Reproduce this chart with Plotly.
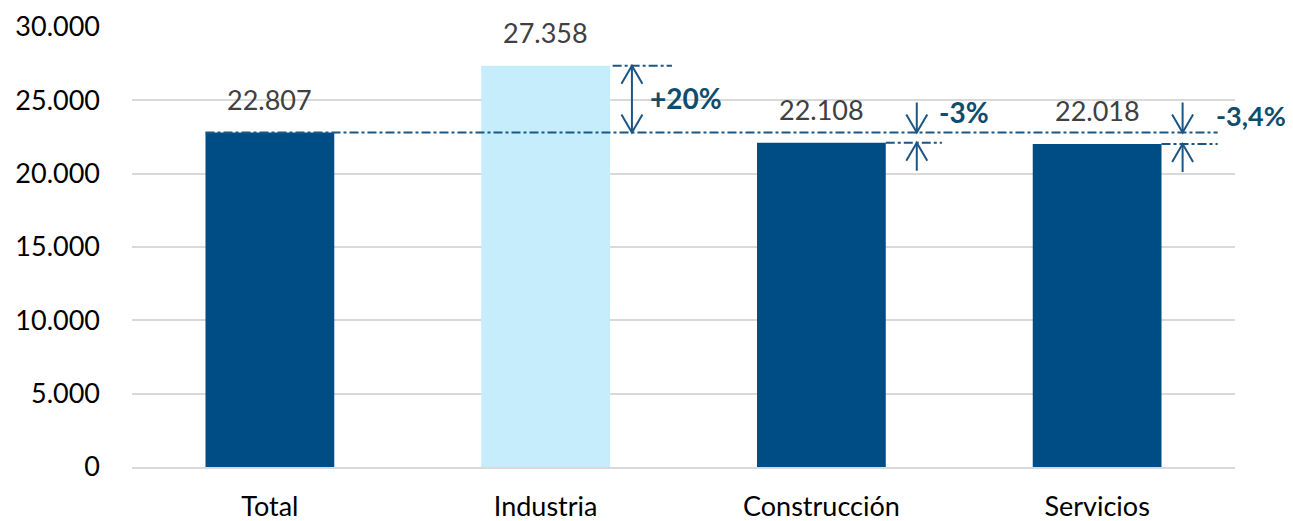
import plotly.graph_objects as go

categories = ["Total", "Industria", "Construcción", "Servicios"]
values = [22807, 27358, 22108, 22018]
bar_colors = ["#004C84", "#C5EDFC", "#004C84", "#004C84"]
diff_labels = ["+20%", "-3%", "-3,4%"]
y_ticks = [0, 5000, 10000, 15000, 20000, 25000, 30000]

# page body has an 8px margin, so the figure is sized to fit the visible window
W, H = 1285, 513
ML, MR, MT, MB = 123.5, 57.5, 19, 54
YMAX = 30000
px_x = 4 / (W - ML - MR)         # category units per pixel
px_y = YMAX / (H - MT - MB)      # value units per pixel

LINE_C = "#1B5685"
TXT_C = "#0E4D6D"
FONT = "Lato, 'Open Sans', sans-serif"
FS = 27
BW = 0.467

def fmt(v):
    return f"{v:,}".replace(",", ".")

fig = go.Figure(go.Bar(
    x=categories, y=values, marker=dict(color=bar_colors, line=dict(width=0)),
    width=BW, hoverinfo="skip"))

shapes = []
annotations = []

for c, v in zip(categories, values):
    annotations.append(dict(x=c, y=v, text=fmt(v), showarrow=False, yanchor="bottom",
                            yshift=15, font=dict(size=FS, color="#404040", family=FONT)))

base = values[0]
shapes.append(dict(type="line", xref="x", yref="y", x0=-BW / 2, x1=3.437, y0=base, y1=base,
                   line=dict(color=LINE_C, width=2, dash="dashdot")))

def vline(x, y0, y1):
    shapes.append(dict(type="line", xref="x", yref="y", x0=x, x1=x, y0=y0, y1=y1,
                       line=dict(color=LINE_C, width=2)))

def head(x, ytip, direction):
    dx = 10.5 * px_x
    dy = 18 * px_y * (-direction)
    path = f"M {x-dx},{ytip+dy} L {x},{ytip} L {x+dx},{ytip+dy}"
    shapes.append(dict(type="path", xref="x", yref="y", path=path,
                       line=dict(color=LINE_C, width=2)))

ind = values[1]
shapes.append(dict(type="line", xref="x", yref="y", x0=1.243, x1=1.458, y0=ind, y1=ind,
                   line=dict(color=LINE_C, width=2, dash="dashdot")))
xa = 1.313
vline(xa, base, ind)
head(xa, ind, +1)
head(xa, base, -1)
annotations.append(dict(x=1.371, y=base + 34.5 * px_y, text=f"<b>{diff_labels[0]}</b>",
                        showarrow=False, xanchor="left", yanchor="middle",
                        font=dict(size=FS + 1, color=TXT_C, family=FONT)))

for i, (xarrow, xend, lab_x, lab_yoff, fs) in zip(
        [2, 3], [(2.346, 2.437, 2.418, 20.5, FS + 1), (3.31, 3.437, 3.424, 17.5, FS)]):
    v = values[i]
    shapes.append(dict(type="line", xref="x", yref="y", x0=i + BW / 2, x1=xend, y0=v, y1=v,
                       line=dict(color=LINE_C, width=2, dash="dashdot")))
    top = base + 30 * px_y
    bot = v - 28 * px_y
    vline(xarrow, base, top)
    head(xarrow, base, -1)
    vline(xarrow, v, bot)
    head(xarrow, v, +1)
    annotations.append(dict(x=lab_x, y=base + lab_yoff * px_y, text=f"<b>{diff_labels[i-1]}</b>",
                            showarrow=False, xanchor="left", yanchor="middle",
                            font=dict(size=fs, color=TXT_C, family=FONT)))

fig.update_layout(
    width=W, height=H, margin=dict(l=ML, r=MR, t=MT, b=MB, autoexpand=False),
    paper_bgcolor="white", plot_bgcolor="white", showlegend=False,
    separators=",.", shapes=shapes, annotations=annotations,
    font=dict(family=FONT, size=FS, color="#000000"),
)
fig.update_xaxes(range=[-0.5, 3.5], showgrid=False, showline=True, linecolor="#D9D9D9",
                 linewidth=1.5, ticks="", ticklabelstandoff=15, automargin=False,
                 tickfont=dict(size=FS, color="#000000", family=FONT))
fig.update_yaxes(range=[0, YMAX], tickvals=y_ticks, ticktext=[fmt(t) for t in y_ticks],
                 showgrid=True, gridcolor="#D9D9D9", gridwidth=1.5, zeroline=False,
                 showline=False, ticks="", ticklabelstandoff=31, automargin=False,
                 tickfont=dict(size=FS, color="#000000", family=FONT))

fig.write_html("out.html")
